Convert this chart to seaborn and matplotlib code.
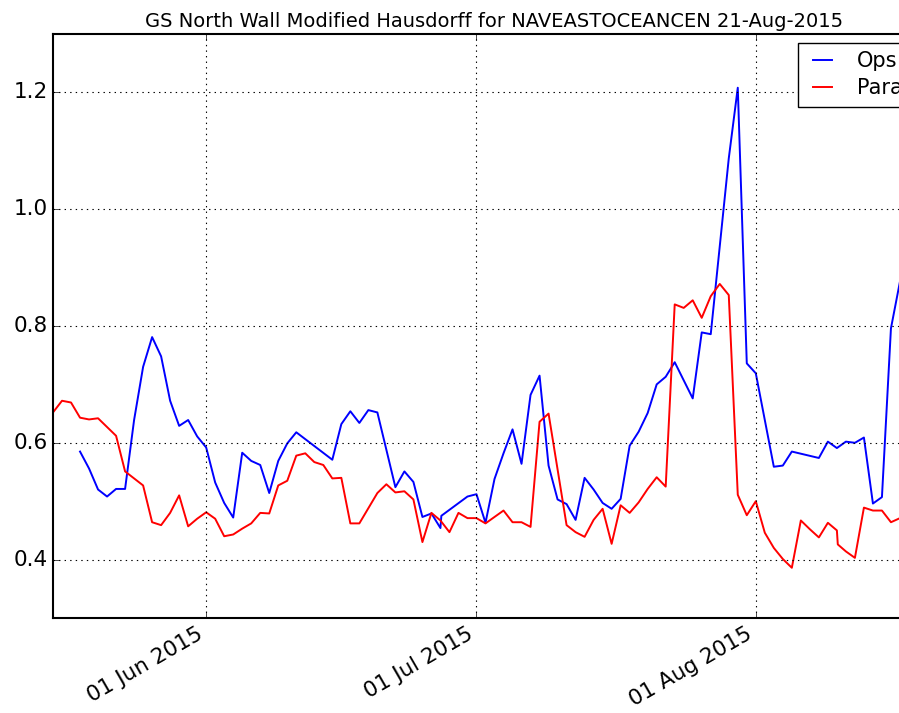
import matplotlib
matplotlib.use("Agg")
import numpy as np
import pandas as pd
import matplotlib.pyplot as plt
import matplotlib.dates as mdates
import seaborn as sns

# dates given as day offsets from the first date
start = "2015-05-15"

ops_days = [3, 4, 5, 6, 7, 8, 9, 10, 11, 12, 13, 14, 15, 16, 17, 18, 19, 20,
            21, 22, 23, 24, 25, 26, 27, 31, 32, 33, 34, 35, 36, 37, 38, 39, 40,
            41, 42, 43, 43.1, 46, 47, 48, 49, 50, 51, 52, 53, 54, 55, 56, 57,
            58, 59, 60, 61, 62, 63, 64, 65, 66, 67, 68, 69, 71, 72, 73, 75, 76,
            77, 78, 80, 81, 82, 85, 86, 87, 88, 89, 90, 91, 92, 93, 94]
ops_vals = [0.585, 0.556, 0.520, 0.508, 0.521, 0.521, 0.639, 0.730, 0.781,
            0.748, 0.672, 0.629, 0.639, 0.611, 0.592, 0.532, 0.497, 0.472,
            0.583, 0.569, 0.562, 0.514, 0.569, 0.599, 0.618, 0.571, 0.632,
            0.654, 0.634, 0.656, 0.652, 0.588, 0.524, 0.551, 0.533, 0.473,
            0.479, 0.454, 0.475, 0.508, 0.512, 0.463, 0.538, 0.582, 0.623,
            0.564, 0.682, 0.715, 0.561, 0.503, 0.495, 0.468, 0.540, 0.520,
            0.497, 0.487, 0.504, 0.595, 0.619, 0.651, 0.700, 0.713, 0.738,
            0.676, 0.789, 0.786, 1.087, 1.208, 0.736, 0.719, 0.559, 0.561,
            0.585, 0.574, 0.602, 0.591, 0.602, 0.600, 0.609, 0.496, 0.507,
            0.796, 0.876]

para_days = [0, 1, 2, 3, 4, 5, 6, 7, 8, 9, 10, 11, 12, 13, 14, 15, 16, 17, 18,
             19, 20, 21, 22, 23, 24, 25, 26, 27, 28, 29, 30, 31, 32, 33, 34,
             35, 36, 37, 38, 39, 40, 41, 42, 43, 44, 45, 46, 47, 48, 49, 50,
             51, 52, 53, 54, 55, 57, 58, 59, 60, 61, 62, 63, 64, 65, 66, 67,
             68, 69, 70, 71, 72, 73, 74, 75, 76, 77, 78, 79, 80, 81, 82, 83,
             84, 85, 86, 87, 87.1, 88, 89, 90, 91, 92, 93, 94]
para_vals = [0.652, 0.672, 0.669, 0.643, 0.640, 0.642, 0.627, 0.612, 0.551,
             0.539, 0.527, 0.464, 0.459, 0.480, 0.510, 0.457, 0.470, 0.481,
             0.470, 0.440, 0.443, 0.453, 0.462, 0.480, 0.479, 0.527, 0.535,
             0.578, 0.582, 0.567, 0.562, 0.539, 0.540, 0.462, 0.462, 0.488,
             0.514, 0.529, 0.515, 0.517, 0.503, 0.430, 0.480, 0.467, 0.447,
             0.480, 0.471, 0.471, 0.462, 0.473, 0.484, 0.464, 0.464, 0.456,
             0.636, 0.650, 0.459, 0.447, 0.439, 0.468, 0.487, 0.427, 0.493,
             0.480, 0.498, 0.521, 0.541, 0.525, 0.837, 0.831, 0.844, 0.814,
             0.851, 0.872, 0.853, 0.511, 0.476, 0.500, 0.446, 0.420, 0.401,
             0.386, 0.467, 0.452, 0.438, 0.463, 0.450, 0.426, 0.414, 0.403,
             0.489, 0.484, 0.484, 0.464, 0.471]

t0 = pd.Timestamp(start)
df = pd.concat([
    pd.DataFrame({"date": t0 + pd.to_timedelta(ops_days, unit="D"),
                  "value": ops_vals, "run": "Ops"}),
    pd.DataFrame({"date": t0 + pd.to_timedelta(para_days, unit="D"),
                  "value": para_vals, "run": "Parallel"}),
])

plt.style.use("classic")
plt.rcParams["font.family"] = ["DejaVu Sans"]

fig = plt.figure(figsize=(8.99, 7.13), dpi=100)
# axes run past the right edge of the picture, like the reference
ax = fig.add_axes([53 / 899, 95 / 713, 883 / 899, 584 / 713])

sns.lineplot(data=df, x="date", y="value", hue="run",
             palette={"Ops": "blue", "Parallel": "red"},
             estimator=None, linewidth=1.4, ax=ax)

ax.set_xlim(pd.Timestamp("2015-05-15"), pd.Timestamp("2015-08-21"))
ax.set_ylim(0.3, 1.3)
ax.set_yticks([0.4, 0.6, 0.8, 1.0, 1.2])
ax.xaxis.set_major_locator(mdates.MonthLocator())
ax.xaxis.set_major_formatter(mdates.DateFormatter("%d %b %Y"))
for lab in ax.get_xticklabels():
    lab.set_rotation(30)
    lab.set_ha("right")
ax.tick_params(labelsize=15.5)
ax.set_xlabel("")
ax.set_ylabel("")
ax.grid(True, color="k", linestyle=":", linewidth=0.8)
for sp in ax.spines.values():
    sp.set_linewidth(1.5)

h, l = ax.get_legend_handles_labels()
ax.legend(h, l, loc="upper left", bbox_to_anchor=(0.844, 0.985),
          borderaxespad=0, fontsize=15, frameon=True, fancybox=False,
          handlelength=1.5, handletextpad=0.9, labelspacing=0.35,
          borderpad=0.4)

ax.set_title("GS North Wall Modified Hausdorff for NAVEASTOCEANCEN 21-Aug-2015",
             fontsize=14)

fig.savefig("out.png", dpi=100)
